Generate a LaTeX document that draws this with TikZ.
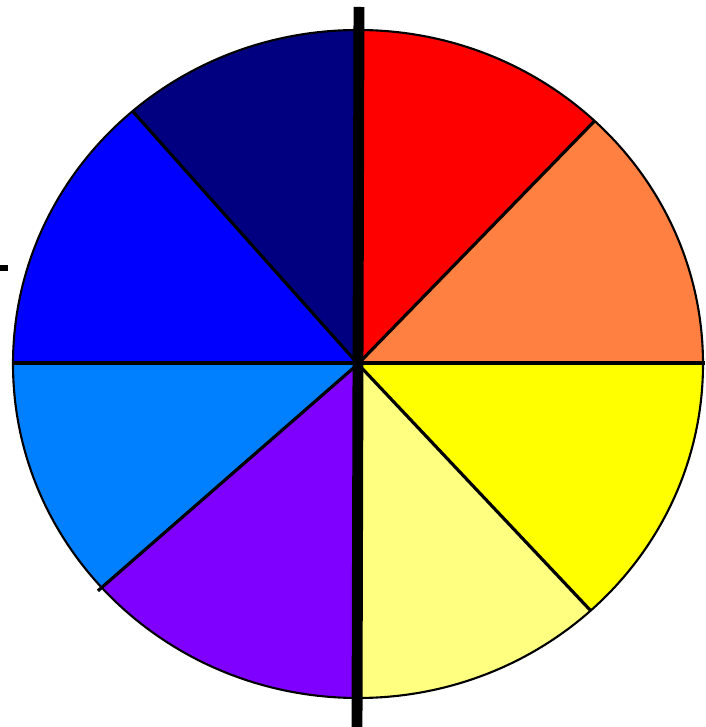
\documentclass[tikz,border=0pt]{standalone}
\usepackage{xcolor}
\definecolor{whred}{RGB}{255,0,0}
\definecolor{whorange}{RGB}{255,128,64}
\definecolor{whyellow}{RGB}{255,255,0}
\definecolor{whpale}{RGB}{255,255,128}
\definecolor{whviolet}{RGB}{128,0,255}
\definecolor{whsky}{RGB}{0,128,255}
\definecolor{whblue}{RGB}{0,0,255}
\definecolor{whnavy}{RGB}{0,0,128}

\begin{document}
\begin{tikzpicture}[x=0.01cm,y=0.01cm]
  \useasboundingbox (0,0) rectangle (705,727);
  \coordinate (c) at (358,363);
  \coordinate (top) at (359,720);
  \coordinate (bot) at (357,0);
  \coordinate (west) at (12,364);
  \coordinate (east) at (705,364);
  \coordinate (tickl) at (0,459);
  \coordinate (tickr) at (8,459);
  \foreach \a/\b/\col in {90/46.7/whred,46.7/0/whorange,0/-47.6/whyellow,-47.6/-90/whpale,-90/-138/whviolet,-138/-180/whsky,180/130.8/whblue,130.8/90/whnavy}
    \fill[\col] (c) -- ++(\a:345 and 334) arc[start angle=\a,end angle=\b,x radius=345,y radius=334] -- cycle;
  \draw[line width=0.6pt] (c) ellipse[x radius=345,y radius=334];
  \foreach \a in {46.7,-47.6,130.8}{\draw[line width=0.9pt] (c) -- ++(\a:345 and 334);}
  \draw[line width=0.9pt] (c) -- ++(-138:350 and 339);
  \draw[line width=1.4pt] (west) -- (east);
  \draw[line width=3.1pt] (top) -- (bot);
  \draw[line width=1.8pt] (tickl) -- (tickr);
\end{tikzpicture}
\end{document}
